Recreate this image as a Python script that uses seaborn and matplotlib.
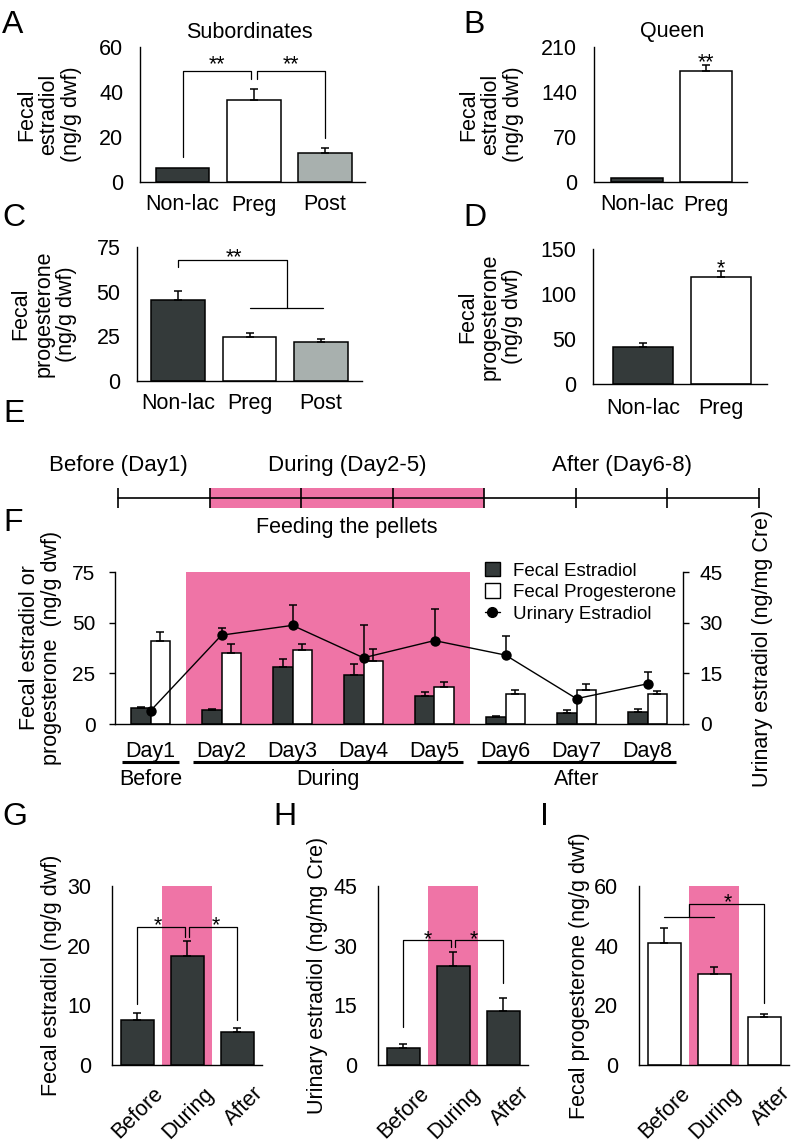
import numpy as np
import pandas as pd
import matplotlib
matplotlib.use("Agg")
import matplotlib.pyplot as plt
import matplotlib.transforms as mtransforms
import seaborn as sns
from matplotlib.patches import Patch
from matplotlib.lines import Line2D

sns.set_theme(style="white")
plt.rcParams['font.family'] = ['Liberation Sans', 'DejaVu Sans']
plt.rcParams.update({
    'axes.edgecolor': 'black', 'axes.linewidth': 1.0,
    'xtick.color': 'black', 'ytick.color': 'black',
    'xtick.major.size': 4, 'ytick.major.size': 4,
    'xtick.major.width': 1.0, 'ytick.major.width': 1.0,
    'xtick.direction': 'out', 'ytick.direction': 'out',
    'text.color': 'black', 'axes.labelcolor': 'black',
})

DARK = "#343a3a"
GRAY = "#a8b0ae"
PINK = "#ef74a6"

# ---------------- data ----------------
sub_cats = ["Non-lac", "Preg", "Post"]
sub_estradiol = [6.2, 36.4, 12.9]
sub_estradiol_err = [0, 4.9, 2.4]
sub_progesterone = [45.3, 24.6, 21.8]
sub_progesterone_err = [5.1, 2.3, 1.7]

queen_cats = ["Non-lac", "Preg"]
queen_estradiol = [6.2, 172.7]
queen_estradiol_err = [0, 9.5]
queen_progesterone = [41.0, 119.0]
queen_progesterone_err = [4.5, 6.5]

days = ["Day1", "Day2", "Day3", "Day4", "Day5", "Day6", "Day7", "Day8"]
fecal_estradiol = [7.7, 6.9, 28.1, 24.0, 13.6, 3.6, 5.6, 6.1]
fecal_estradiol_err = [0.5, 0.5, 4.1, 5.4, 2.0, 0.5, 1.1, 1.5]
fecal_progesterone = [40.9, 34.8, 36.3, 30.9, 18.1, 14.9, 16.7, 14.9]
fecal_progesterone_err = [4.6, 4.6, 3.1, 5.9, 2.8, 1.8, 2.8, 1.4]
urinary_estradiol = [3.9, 26.3, 29.2, 19.6, 24.7, 20.4, 7.5, 11.9]
urinary_estradiol_err = [0, 2.1, 6.1, 9.8, 9.4, 5.7, 0, 3.5]

periods = ["Before", "During", "After"]
period_days = [[0], [1, 2, 3, 4], [5, 6, 7]]
timeline_labels = ["Before (Day1)", "During (Day2-5)", "After (Day6-8)"]

period_fecal_estradiol = [7.5, 18.3, 5.5]
period_fecal_estradiol_err = [1.2, 2.5, 0.7]
period_urinary_estradiol = [4.3, 24.9, 13.6]
period_urinary_estradiol_err = [1.0, 3.5, 3.2]
period_fecal_progesterone = [40.9, 30.5, 16.1]
period_fecal_progesterone_err = [5.0, 2.3, 1.0]

# ---------------- helpers ----------------
W, H = 796, 1143
fig = plt.figure(figsize=(W / 100, H / 100), dpi=100)
FS = 15.5


def add_ax(x0, y0, x1, y1):
    return fig.add_axes([x0 / W, 1 - y1 / H, (x1 - x0) / W, (y1 - y0) / H])


def ftext(x, y, s, **kw):
    fig.text(x / W, 1 - y / H, s, **kw)


def errbars(ax, xs, vals, errs, z=3):
    for x, v, e in zip(xs, vals, errs):
        if e > 0:
            ax.errorbar(x, v, yerr=[[0], [e]], fmt="none", ecolor="black",
                        elinewidth=1.1, capsize=2.6, capthick=1.1, zorder=z)


def simple_bars(ax, cats, vals, errs, colors, width):
    df = pd.DataFrame({"cat": cats, "val": vals})
    sns.barplot(data=df, x="cat", y="val", hue="cat", order=cats, hue_order=cats,
                palette=colors, width=width, saturation=1, edgecolor="black",
                linewidth=1.1, errorbar=None, legend=False, ax=ax, zorder=2)
    errbars(ax, range(len(cats)), vals, errs)


def style(ax, ylim, yticks, xlim, ylabel, label_x, ypad=8, ls=1.1):
    ax.set_ylim(*ylim)
    ax.set_yticks(yticks)
    ax.set_xlim(*xlim)
    sns.despine(ax=ax)
    ax.set_xlabel("")
    ax.set_ylabel(ylabel, fontsize=FS, linespacing=ls)
    ax.yaxis.set_label_coords(label_x, 0.5)
    ax.tick_params(axis='y', labelsize=FS, pad=ypad, length=4, width=1)


def bracket(ax, x1, x2, yb1, yb2, ytop):
    ax.plot([x1, x1, x2, x2], [yb1, ytop, ytop, yb2], color="black", lw=0.9,
            zorder=4, clip_on=False)


def star(ax, x, y, s):
    ax.text(x, y, s, ha="center", va="baseline", fontsize=FS, zorder=5)


# ---------------- Panel A ----------------
axA = add_ax(140, 47, 365, 182)
simple_bars(axA, sub_cats, sub_estradiol, sub_estradiol_err, [DARK, "white", GRAY], 0.75)
style(axA, (0, 60), [0, 20, 40, 60], (-0.6, 2.56), "Fecal\nestradiol\n(ng/g dwf)", -0.258)
axA.tick_params(axis='x', length=0, labelsize=FS, pad=9)
bracket(axA, 0, 0.96, 11, 46, 49.3)
bracket(axA, 1.04, 2, 46, 19.5, 49.3)
star(axA, 0.48, 49.8, "**")
star(axA, 1.52, 49.8, "**")

# ---------------- Panel B ----------------
axB = add_ax(594, 47, 747, 182)
simple_bars(axB, queen_cats, queen_estradiol, queen_estradiol_err, [DARK, "white"], 0.75)
style(axB, (0, 210), [0, 70, 140, 210], (-0.62, 1.59), "Fecal\nestradiol\n(ng/g dwf)", -0.457)
axB.tick_params(axis='x', length=0, labelsize=FS, pad=9)
star(axB, 1, 177, "**")

# ---------------- Panel C ----------------
axC = add_ax(137, 247, 362, 381)
simple_bars(axC, sub_cats, sub_progesterone, sub_progesterone_err, [DARK, "white", GRAY], 0.75)
style(axC, (0, 75), [0, 25, 50, 75], (-0.57, 2.57), "Fecal\nprogesterone\n(ng/g dwf)", -0.267)
axC.tick_params(axis='x', length=0, labelsize=FS, pad=9)
bracket(axC, 0, 1.52, 63.8, 40.9, 67.7)
axC.plot([1.0, 2.02], [40.9, 40.9], color="black", lw=0.9, zorder=4)
star(axC, 0.78, 66.0, "**")

# ---------------- Panel D ----------------
axD = add_ax(593, 249, 767, 384)
simple_bars(axD, queen_cats, queen_progesterone, queen_progesterone_err, [DARK, "white"], 0.78)
style(axD, (0, 150), [0, 50, 100, 150], (-0.64, 1.59), "Fecal\nprogesterone\n(ng/g dwf)", -0.402)
axD.tick_params(axis='x', length=0, labelsize=FS, pad=10)
star(axD, 1, 122, "*")

# ---------------- Panel E (timeline) ----------------
axE = add_ax(118, 476, 759, 520)
axE.set_xlim(0, 7)
axE.set_ylim(-1, 1)
axE.axis("off")
axE.fill_between([1, 4], -0.45, 0.45, color=PINK, lw=0, zorder=1)
axE.plot([0, 7], [0, 0], color="black", lw=1.2, clip_on=False, zorder=2)
axE.vlines(np.arange(8), -0.45, 0.45, color="black", lw=1.2, clip_on=False, zorder=2)
for xpos, lab in zip([0, 2.5, 5.5], timeline_labels):
    axE.text(xpos, 1.5, lab, ha="center", va="center", fontsize=16)
axE.text(2.5, -1.36, "Feeding the pellets", ha="center", va="center", fontsize=FS)

# ---------------- Panel F ----------------
axF = add_ax(115, 572, 683, 724)
axF.axvspan(0.5, 4.5, color=PINK, lw=0, zorder=0)
dfF = pd.DataFrame({
    "day": days * 2,
    "series": ["Fecal Estradiol"] * 8 + ["Fecal Progesterone"] * 8,
    "value": fecal_estradiol + fecal_progesterone,
})
sns.barplot(data=dfF, x="day", y="value", hue="series", order=days,
            hue_order=["Fecal Estradiol", "Fecal Progesterone"],
            palette={"Fecal Estradiol": DARK, "Fecal Progesterone": "white"},
            width=0.56, dodge=True, saturation=1, edgecolor="black", linewidth=1.1,
            errorbar=None, legend=False, ax=axF, zorder=2)
xs = np.arange(len(days))
errbars(axF, xs - 0.14, fecal_estradiol, fecal_estradiol_err)
errbars(axF, xs + 0.14, fecal_progesterone, fecal_progesterone_err)
axF.set_xlim(-0.5, 7.5)
axF.set_ylim(0, 75)
axF.set_yticks([0, 25, 50, 75])
axF.spines["top"].set_visible(False)
axF.spines["right"].set_visible(False)
axF.set_xlabel("")
axF.set_ylabel("Fecal estradiol or\nprogesterone  (ng/g dwf)", fontsize=FS, linespacing=1.05)
axF.yaxis.set_label_coords(-0.093, 0.5)
axF.tick_params(axis='y', labelsize=15, pad=10, length=4)
axF.set_xticks(xs)
axF.set_xticklabels(days)
axF.tick_params(axis='x', which='major', length=0, labelsize=15.5, pad=12)
axF.set_xticks(np.arange(-0.5, 8, 1), minor=True)
axF.tick_params(axis='x', which='minor', length=4, width=1, direction='out')

ax2 = axF.twinx()
sns.lineplot(x=xs, y=urinary_estradiol, ax=ax2, color="black", marker="o",
             markersize=7.5, markeredgewidth=0, linewidth=1.0, zorder=5)
xe = [x for x, e in zip(xs, urinary_estradiol_err) if e > 0]
ve = [v for v, e in zip(urinary_estradiol, urinary_estradiol_err) if e > 0]
ee = [e for e in urinary_estradiol_err if e > 0]
errbars(ax2, xe, ve, ee, z=4)
ax2.set_ylim(0, 45)
ax2.set_yticks([0, 15, 30, 45])
ax2.set_xlim(-0.5, 7.5)
for s in ["top", "left", "bottom"]:
    ax2.spines[s].set_visible(False)
ax2.spines["right"].set_visible(True)
ax2.tick_params(axis='y', labelsize=15, pad=8, length=4, right=True, left=False)
ax2.set_xlabel("")
ax2.set_ylabel("Urinary estradiol (ng/mg Cre)", fontsize=FS)
ax2.yaxis.set_label_coords(1.122, 0.5)

xfT = axF.get_xaxis_transform()
for per, dl in zip(periods, period_days):
    axF.plot([dl[0] - 0.4, dl[-1] + 0.4], [-0.25, -0.25], transform=xfT,
             color="black", lw=2.2, clip_on=False, solid_capstyle="butt")
    axF.text(np.mean(dl), -0.362, per, transform=xfT, ha="center", va="center",
             fontsize=15.5)

handles = [Patch(facecolor=DARK, edgecolor="black", lw=1.0),
           Patch(facecolor="white", edgecolor="black", lw=1.0),
           Line2D([0], [0], color="black", marker="o", markersize=7, lw=1.0)]
ax2.legend(handles, ["Fecal Estradiol", "Fecal Progesterone", "Urinary Estradiol"],
           loc="upper left", bbox_to_anchor=(0.651, 1.066), frameon=False,
           fontsize=13.5, handlelength=0.8, handleheight=0.8, handletextpad=0.7,
           labelspacing=0.2, borderpad=0, borderaxespad=0)

# ---------------- Panels G, H, I ----------------
lab_offset = mtransforms.ScaledTranslation(-9 / 100, -4 / 100, fig.dpi_scale_trans)


def period_panel(ax, vals, errs, color, ylim, yticks, ylabel, lab_x):
    ax.axvspan(0.5, 1.5, color=PINK, lw=0, zorder=0)
    simple_bars(ax, periods, vals, errs, [color] * 3, 0.66)
    style(ax, ylim, yticks, (-0.5, 2.5), ylabel, lab_x, ypad=11)
    ax.set_xticks([0.5, 1.5, 2.5])
    ax.set_xticklabels(periods)
    ax.tick_params(axis='x', length=4, width=1, labelsize=FS, pad=6, labelrotation=45)
    for lbl in ax.get_xticklabels():
        lbl.set_ha("right")
        lbl.set_rotation_mode("anchor")
        lbl.set_transform(lbl.get_transform() + lab_offset)


axG = add_ax(112, 886, 262, 1065)
period_panel(axG, period_fecal_estradiol, period_fecal_estradiol_err, DARK,
             (0, 30), [0, 10, 20, 30], "Fecal estradiol (ng/g dwf)", -0.333)
bracket(axG, 0, 0.96, 10.2, 21.5, 23.1)
bracket(axG, 1.04, 2, 21.5, 7.5, 23.1)
star(axG, 0.42, 22.5, "*")
star(axG, 1.58, 22.5, "*")

axH = add_ax(378, 886, 528, 1065)
period_panel(axH, period_urinary_estradiol, period_urinary_estradiol_err, DARK,
             (0, 45), [0, 15, 30, 45], "Urinary estradiol (ng/mg Cre)", -0.333)
bracket(axH, 0, 0.96, 9.6, 29.7, 31.4)
bracket(axH, 1.04, 2, 29.7, 20.6, 31.4)
star(axH, 0.5, 30.0, "*")
star(axH, 1.42, 30.0, "*")

axI = add_ax(639, 886, 789, 1065)
period_panel(axI, period_fecal_progesterone, period_fecal_progesterone_err, "white",
             (0, 60), [0, 20, 40, 60], "Fecal progesterone (ng/g dwf)", -0.327)
axI.plot([0, 1], [49.5, 49.5], color="black", lw=0.9, zorder=4)
bracket(axI, 0.5, 2, 49.5, 20.8, 53.8)
star(axI, 1.27, 52.5, "*")

# ---------------- titles and panel letters ----------------
ftext(249, 32, "Subordinates", ha="center", va="center", fontsize=FS)
ftext(672, 32, "Queen", ha="center", va="center", fontsize=FS)
for x, y, s in [(2, 25, "A"), (463, 25, "B"), (2, 218, "C"), (463, 218, "D"),
                (3, 414, "E"), (3, 523, "F"), (2, 817, "G"), (273, 817, "H"),
                (540, 817, "I")]:
    ftext(x, y, s, ha="left", va="center", fontsize=23)

fig.savefig("out.png", dpi=100)
